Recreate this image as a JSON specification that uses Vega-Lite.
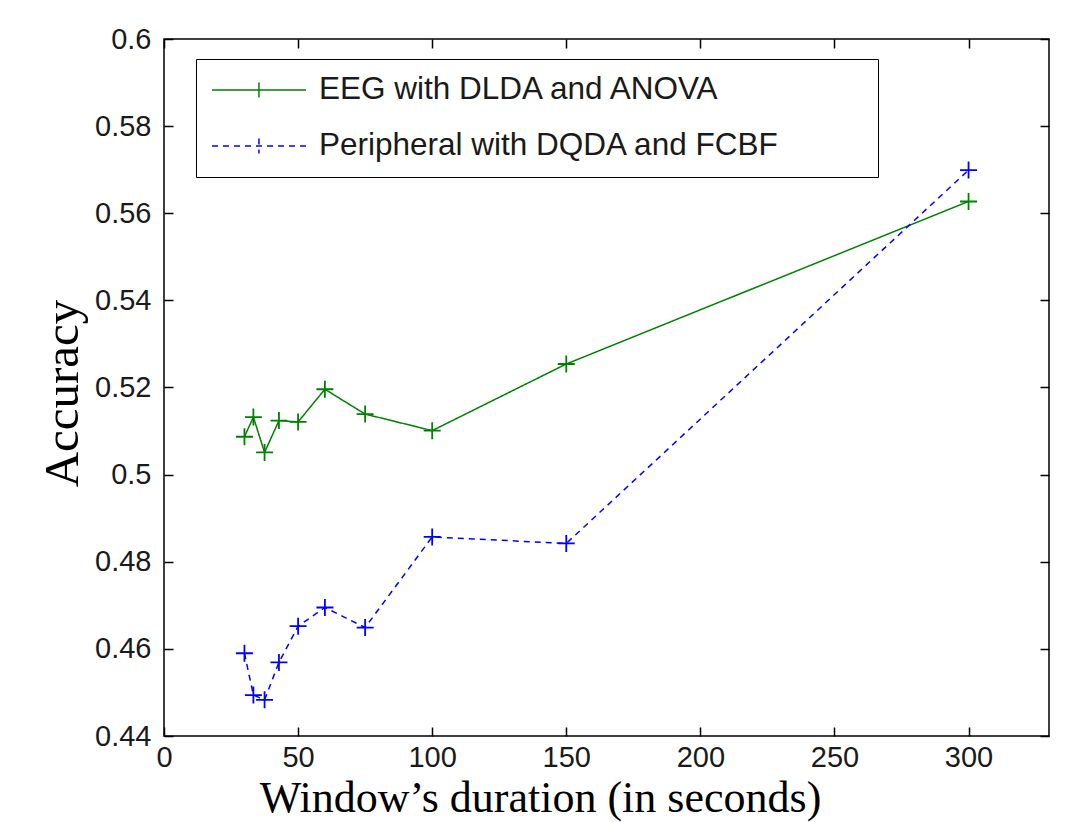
{
  "$schema": "https://vega.github.io/schema/vega-lite/v6.json",
  "width": 885,
  "height": 697,
  "autosize": {"type": "none"},
  "padding": {"left": 164, "top": 39, "right": 37, "bottom": 86},
  "background": "white",
  "config": {
    "view": {"stroke": "black", "strokeWidth": 1.5},
    "font": "Liberation Sans"
  },
  "data": {
    "values": [
      {"series": "EEG with DLDA and ANOVA", "duration": 30, "accuracy": 0.5087},
      {"series": "EEG with DLDA and ANOVA", "duration": 33.33, "accuracy": 0.5132},
      {"series": "EEG with DLDA and ANOVA", "duration": 37.5, "accuracy": 0.5051},
      {"series": "EEG with DLDA and ANOVA", "duration": 42.86, "accuracy": 0.5124},
      {"series": "EEG with DLDA and ANOVA", "duration": 50, "accuracy": 0.5121},
      {"series": "EEG with DLDA and ANOVA", "duration": 60, "accuracy": 0.5196},
      {"series": "EEG with DLDA and ANOVA", "duration": 75, "accuracy": 0.5139},
      {"series": "EEG with DLDA and ANOVA", "duration": 100, "accuracy": 0.5101},
      {"series": "EEG with DLDA and ANOVA", "duration": 150, "accuracy": 0.5254},
      {"series": "EEG with DLDA and ANOVA", "duration": 300, "accuracy": 0.5627},
      {"series": "Peripheral with DQDA and FCBF", "duration": 30, "accuracy": 0.4590},
      {"series": "Peripheral with DQDA and FCBF", "duration": 33.33, "accuracy": 0.4494},
      {"series": "Peripheral with DQDA and FCBF", "duration": 37.5, "accuracy": 0.4483},
      {"series": "Peripheral with DQDA and FCBF", "duration": 42.86, "accuracy": 0.4569},
      {"series": "Peripheral with DQDA and FCBF", "duration": 50, "accuracy": 0.4652},
      {"series": "Peripheral with DQDA and FCBF", "duration": 60, "accuracy": 0.4695},
      {"series": "Peripheral with DQDA and FCBF", "duration": 75, "accuracy": 0.4649},
      {"series": "Peripheral with DQDA and FCBF", "duration": 100, "accuracy": 0.4857},
      {"series": "Peripheral with DQDA and FCBF", "duration": 150, "accuracy": 0.4842},
      {"series": "Peripheral with DQDA and FCBF", "duration": 300, "accuracy": 0.5699}
    ]
  },
  "layer": [
    {
      "mark": {"type": "line", "strokeWidth": 1.5},
      "encoding": {
        "x": {
          "field": "duration", "type": "quantitative",
          "scale": {"domain": [0, 330], "nice": false, "zero": false},
          "axis": {
            "orient": "bottom", "values": [0, 50, 100, 150, 200, 250, 300],
            "grid": false, "domain": false, "tickSize": -9, "tickColor": "black", "tickWidth": 1.5,
            "labelFont": "Liberation Sans", "labelFontSize": 29, "labelColor": "#1a1a1a",
            "labelPadding": 16, "labelFlush": false, "labelOverlap": false,
            "title": "Window’s duration (in seconds)", "titleFont": "Liberation Serif",
            "titleFontSize": 44, "titleFontWeight": "normal", "titleColor": "black",
            "titleX": 376, "titleY": 75, "titleBaseline": "alphabetic", "titleAlign": "center"
          }
        },
        "y": {
          "field": "accuracy", "type": "quantitative",
          "scale": {"domain": [0.44, 0.6], "nice": false, "zero": false},
          "axis": {
            "orient": "left", "values": [0.44, 0.46, 0.48, 0.5, 0.52, 0.54, 0.56, 0.58, 0.6],
            "format": "~g", "grid": false, "domain": false, "tickSize": -9, "tickColor": "black", "tickWidth": 1.5,
            "labelFont": "Liberation Sans", "labelFontSize": 29, "labelColor": "#1a1a1a",
            "labelPadding": 22, "labelFlush": false, "labelOverlap": false,
            "title": "Accuracy", "titleFont": "Liberation Serif", "titleFontSize": 49,
            "titleFontWeight": "normal", "titleColor": "black",
            "titleX": -87, "titleY": 354, "titleAngle": 270, "titleBaseline": "alphabetic", "titleAlign": "center"
          }
        },
        "color": {
          "field": "series", "type": "nominal",
          "scale": {"domain": ["EEG with DLDA and ANOVA", "Peripheral with DQDA and FCBF"], "range": ["#008000", "#0000ff"]},
          "legend": {
            "orient": "none", "legendX": 32, "legendY": 20,
            "title": "\u00a0", "titleOrient": "right", "titlePadding": 84,
            "symbolType": "M-1,0H5.27M2.13,-0.5V0.5", "symbolSize": 900, "symbolStrokeWidth": 1.5,
            "labelFont": "Liberation Sans", "labelFontSize": 31.5, "labelColor": "#1a1a1a",
            "labelOffset": 76, "labelLimit": 0, "padding": 15, "rowPadding": 24,
            "strokeColor": "black", "fillColor": "white"
          }
        },
        "strokeDash": {
          "field": "series", "type": "nominal",
          "scale": {"domain": ["EEG with DLDA and ANOVA", "Peripheral with DQDA and FCBF"], "range": [[1, 0], [6, 5]]},
          "legend": {
            "orient": "none", "legendX": 32, "legendY": 20,
            "title": "\u00a0", "titleOrient": "right", "titlePadding": 84,
            "symbolType": "M-1,0H5.27M2.13,-0.5V0.5", "symbolSize": 900, "symbolStrokeWidth": 1.5,
            "labelFont": "Liberation Sans", "labelFontSize": 31.5, "labelColor": "#1a1a1a",
            "labelOffset": 76, "labelLimit": 0, "padding": 15, "rowPadding": 24,
            "strokeColor": "black", "fillColor": "white"
          }
        }
      }
    },
    {
      "mark": {"type": "point", "shape": "M-1,0H1M0,-1V1", "filled": false, "size": 289, "strokeWidth": 1.8, "opacity": 1},
      "encoding": {
        "x": {
          "field": "duration", "type": "quantitative",
          "axis": {
            "orient": "top", "values": [0, 50, 100, 150, 200, 250, 300], "labels": false, "title": null,
            "grid": false, "domain": false, "tickSize": -9, "tickColor": "black", "tickWidth": 1.5
          }
        },
        "y": {
          "field": "accuracy", "type": "quantitative",
          "axis": {
            "orient": "right", "values": [0.44, 0.46, 0.48, 0.5, 0.52, 0.54, 0.56, 0.58, 0.6], "labels": false, "title": null,
            "grid": false, "domain": false, "tickSize": -9, "tickColor": "black", "tickWidth": 1.5
          }
        },
        "color": {
          "field": "series", "type": "nominal",
          "legend": {
            "orient": "none", "legendX": 32, "legendY": 20,
            "title": "\u00a0", "titleOrient": "right", "titlePadding": 84,
            "symbolType": "M-1,0H5.27M2.13,-0.5V0.5", "symbolSize": 900, "symbolStrokeWidth": 1.5,
            "labelFont": "Liberation Sans", "labelFontSize": 31.5, "labelColor": "#1a1a1a",
            "labelOffset": 76, "labelLimit": 0, "padding": 15, "rowPadding": 24,
            "strokeColor": "black", "fillColor": "white"
          }
        }
      }
    }
  ],
  "resolve": {"axis": {"x": "independent", "y": "independent"}}
}
